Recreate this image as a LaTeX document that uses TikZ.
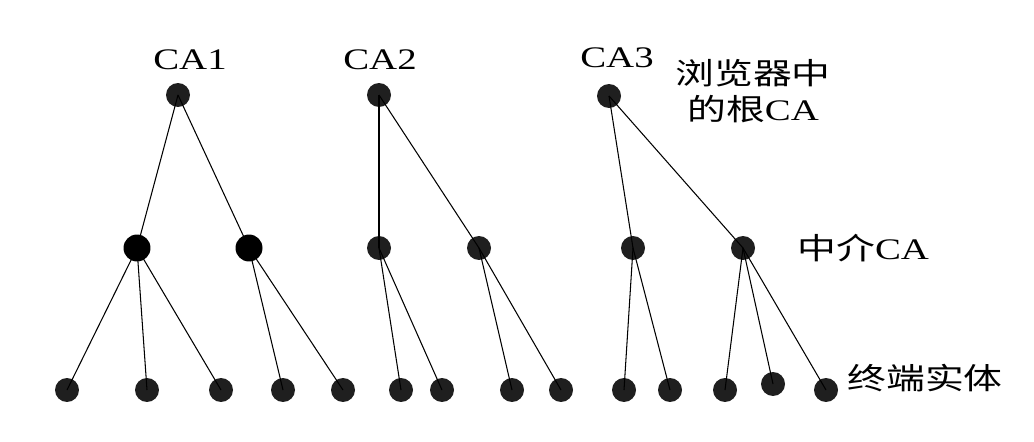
\documentclass[tikz,border=0pt]{standalone}
\usepackage{fontspec}
\setmainfont{Liberation Serif}
\newfontfamily\cjk{Noto Sans CJK SC}
\newcommand{\widetext}[1]{\scalebox{1.3}[1]{#1}}

\begin{document}
\begin{tikzpicture}[
    x=0.02cm, y=-0.02cm,
    dot/.style={circle, fill=black!88, inner sep=0pt, minimum size=0.48cm},
    bigdot/.style={dot, fill=black, minimum size=0.54cm},
    lbl/.style={font=\fontsize{17}{20}\selectfont, inner sep=0pt},
    edge/.style={line width=0.6pt, black}
]
\useasboundingbox (0,0) rectangle (1034,442);

% root CAs
\node[dot] (r1) at (178,95) {};
\node[dot] (r2) at (379,95) {};
\node[dot] (r3) at (609,96) {};

% intermediate CAs
\node[bigdot] (m11) at (137,248) {};
\node[bigdot] (m12) at (249,248) {};
\node[dot] (m21) at (379,248) {};
\node[dot] (m22) at (479,248) {};
\node[dot] (m31) at (633,248) {};
\node[dot] (m32) at (743,248) {};

% end entities
\node[dot] (e1) at (67,390) {};
\node[dot] (e2) at (147,390) {};
\node[dot] (e3) at (221,390) {};
\node[dot] (e4) at (283,390) {};
\node[dot] (e5) at (343,390) {};
\node[dot] (e6) at (401,390) {};
\node[dot] (e7) at (442,390) {};
\node[dot] (e8) at (512,390) {};
\node[dot] (e9) at (561,390) {};
\node[dot] (e10) at (624,390) {};
\node[dot] (e11) at (670,390) {};
\node[dot] (e12) at (725,390) {};
\node[dot] (e13) at (773,384) {};
\node[dot] (e14) at (826,390) {};

% labels
\node[lbl] (t1) at (190,60) {\widetext{CA1}};
\node[lbl] (t2) at (380,60) {\widetext{CA2}};
\node[lbl] (t3) at (617,58) {\widetext{CA3}};
\node[lbl] (troot) at (753,95) {\widetext{\begin{tabular}{@{}c@{}}{\cjk 浏览器中}\\{\cjk 的根}CA\end{tabular}}};
\node[lbl, anchor=west] (tmid) at (797,248) {\widetext{{\cjk 中介}CA}};
\node[lbl] (tend) at (925,378) {\widetext{\cjk 终端实体}};

% tree edges
\draw[edge] (r1.center) -- (m11.center);
\draw[edge] (r1.center) -- (m12.center);
\draw[edge] (m11.center) -- (e1.center);
\draw[edge] (m11.center) -- (e2.center);
\draw[edge] (m11.center) -- (e3.center);
\draw[edge] (m12.center) -- (e4.center);
\draw[edge] (m12.center) -- (e5.center);

\draw[edge] (r2.center) -- (m21.center);
\draw[edge] (r2.center) -- (m22.center);
\draw[edge] (m21.center) -- (e6.center);
\draw[edge] (m21.center) -- (e7.center);
\draw[edge] (m22.center) -- (e8.center);
\draw[edge] (m22.center) -- (e9.center);

\draw[edge] (r3.center) -- (m31.center);
\draw[edge] (r3.center) -- (m32.center);
\draw[edge] (m31.center) -- (e10.center);
\draw[edge] (m31.center) -- (e11.center);
\draw[edge] (m32.center) -- (e12.center);
\draw[edge] (m32.center) -- (e13.center);
\draw[edge] (m32.center) -- (e14.center);
\end{tikzpicture}
\end{document}
